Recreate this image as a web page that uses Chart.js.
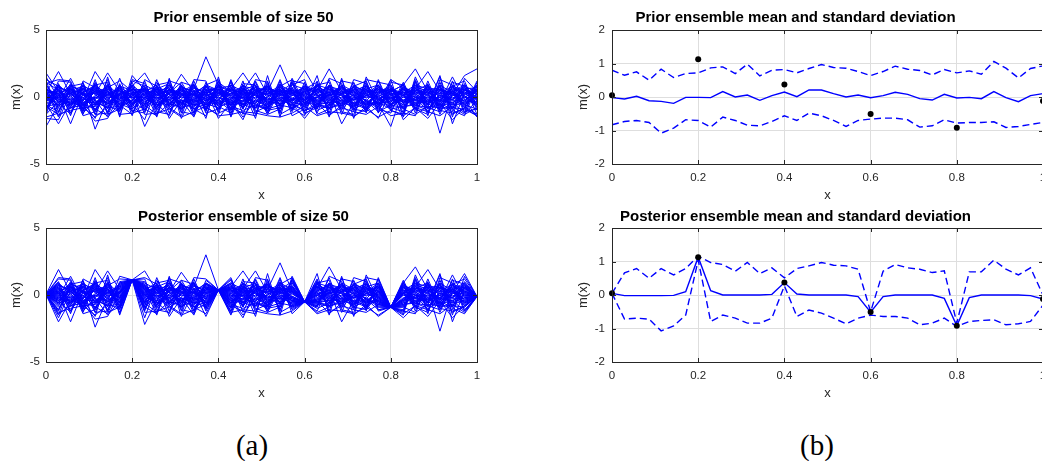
<!DOCTYPE html>
<html>
<head>
<meta charset="utf-8">
<script src="https://cdn.jsdelivr.net/npm/chart.js"></script>
<style>
  html, body { margin: 0; padding: 0; background: #fff; }
  body { position: relative; width: 1042px; height: 461px; overflow: hidden; }
  canvas { position: absolute; }
  .sub { position: absolute; width: 100px; text-align: center; line-height: 29px;
         font-family: "Liberation Serif", "DejaVu Serif", serif; font-size: 29px; color: #000; }
</style>
</head>
<body>
<canvas id="priorEns" width="480" height="205" style="left:10px;top:0px;width:480px;height:205px"></canvas>
<canvas id="postEns" width="480" height="205" style="left:10px;top:200px;width:480px;height:205px"></canvas>
<canvas id="priorStats" width="510" height="205" style="left:548px;top:0px;width:510px;height:205px"></canvas>
<canvas id="postStats" width="510" height="205" style="left:548px;top:200px;width:510px;height:205px"></canvas>
<div class="sub" style="left:202px;top:431px">(a)</div>
<div class="sub" style="left:767px;top:431px">(b)</div>
<script>
// grid nodes (36 points on [0, 1])
const xNodes = [0, 0.029, 0.057, 0.086, 0.114, 0.143, 0.171, 0.2, 0.229, 0.257, 0.286, 0.314,
  0.343, 0.371, 0.4, 0.429, 0.457, 0.486, 0.514, 0.543, 0.571, 0.6, 0.629, 0.657,
  0.686, 0.714, 0.743, 0.771, 0.8, 0.829, 0.857, 0.886, 0.914, 0.943, 0.971, 1];

// observations (black dots) and the grid node each one sits on
const obsX = [0, 0.2, 0.4, 0.6, 0.8, 1];
const obsY = [0.05, 1.13, 0.37, -0.51, -0.92, -0.12];
const obsNodes = [0, 7, 14, 21, 28, 35];

// prior ensemble, 50 members (a) top
const priorMembers = [
  [1.8, 0.4, -0.3, 0.6, -0.2, 0.9,  -0.5, 0.1, 0.7, -0.8, 0.3, 1.1,  -0.4, 0.2, 0.8, -0.6, 0.0, 0.5,  -0.9, 0.4, 1.0, -0.3, 0.6, -0.1,  0.3, -0.7, 0.2, 0.9, -0.5, 0.1,  0.7, -0.2, 0.4, -0.9, 0.5, 0.2],
  [-2.2, -0.6, 0.5, -0.1, 0.8, -0.7,  0.3, -0.9, 0.2, 0.6, -0.4, 0.0,  0.9, -0.3, 0.1, 0.7, -0.8, 0.4,  0.2, -0.5, 0.6, 0.1, -0.9, 0.8,  -0.2, 0.5, -0.6, 0.3, 0.9, -0.4,  -0.1, 0.8, -0.7, 0.2, -0.3, 0.6],
  [0.3, 1.9, 0.2, -0.5, 0.4, 0.1,  0.8, 0.5, -0.6, 0.2, 0.9, -0.3,  0.1, 0.6, -0.5, 0.3, 0.8, -0.7,  0.5, 0.0, -0.4, 0.9, 0.2, -0.6,  0.7, 0.1, -0.8, 0.4, -0.2, 0.6,  0.0, -0.5, 0.9, 0.3, -0.6, 0.1],
  [-0.5, -2.0, -0.4, 0.7, -0.6, 0.3,  -0.2, 0.6, 0.4, -0.9, 0.1, 0.5,  -0.7, 0.4, 0.2, -0.2, 0.5, 0.9,  -0.4, 0.7, 0.3, -0.8, 0.0, 0.4,  0.6, -0.3, 0.8, -0.1, 0.2, -0.9,  0.5, 0.3, -0.4, 0.7, 0.1, -0.5],
  [0.6, 0.2, -2.0, 0.3, 0.9, -0.4,  0.1, -0.3, 0.9, 0.4, -0.7, 0.8,  0.3, -0.8, 0.6, 0.0, -0.3, 0.2,  0.8, -0.6, 0.1, 0.4, 0.7, -0.2,  -0.5, 0.9, 0.3, -0.6, 0.5, 0.2,  -0.8, 0.6, 0.1, -0.2, 0.9, -0.3],
  [-0.9, 0.7, 0.4, -0.2, 1.9, 0.5,  -0.6, 0.2, -0.1, 0.8, 0.3, -0.6,  0.5, 0.1, -0.9, 0.6, 0.2, -0.4,  0.0, 0.8, -0.5, 0.3, -0.1, 0.9,  0.2, -0.6, 0.5, 0.0, -0.8, 0.7,  0.3, -0.9, 0.2, 0.6, -0.4, 0.8],
  [0.1, -0.3, 0.8, 0.5, -2.4, -0.2,  0.7, -0.5, 0.3, -0.1, 0.6, 0.2,  -0.3, 0.8, 0.4, -0.7, 0.9, 0.1,  -0.6, 0.3, 0.7, -0.2, 0.5, 0.0,  0.9, 0.4, -0.3, 0.7, 0.1, -0.6,  0.4, 0.2, -0.6, 0.8, 0.0, -0.7],
  [1.1, 0.5, -0.6, 0.9, 0.2, 1.8,  0.4, 0.0, -0.7, 0.5, -0.2, 0.9,  -0.1, 0.5, 0.7, 0.2, -0.6, 0.3,  0.9, -0.2, 0.4, -0.7, 0.8, 0.3,  -0.1, 0.6, -0.4, 0.2, 0.8, -0.3,  0.6, 0.1, -0.2, 0.4, 0.7, -0.1],
  [-0.3, 0.9, 0.1, -0.8, 0.5, -0.5,  0.2, 0.8, 1.8, 0.3, -0.5, 0.4,  0.7, -0.2, -0.3, 0.9, 0.4, -0.8,  0.3, 0.6, -0.1, 0.5, -0.4, 0.2,  0.8, 0.0, 0.6, -0.5, 0.4, 0.9,  -0.3, 0.7, 0.5, -0.1, 0.2, 0.4],
  [0.4, -0.8, 0.6, 0.2, -0.7, 0.6,  -0.3, 0.4, -2.2, -0.4, 0.8, -0.1,  0.2, 0.9, 0.5, -0.4, 0.1, 0.7,  -0.2, 0.1, 0.9, 0.6, -0.3, 0.5,  0.1, -0.8, 0.4, 0.6, -0.1, 0.3,  0.9, -0.4, 0.0, 0.5, -0.8, 0.3],
  [-0.1, 0.3, -0.9, 0.4, 0.6, -0.3,  0.9, -0.2, 0.5, 0.7, 0.2, 1.7,  0.4, -0.6, 0.3, 0.1, 0.7, -0.2,  0.6, -0.8, 0.2, 0.7, 0.4, -0.5,  0.3, 0.7, -0.1, 0.8, -0.6, 0.5,  0.2, 0.6, -0.8, 0.1, 0.4, -0.2],
  [0.7, -0.4, 0.3, -0.6, 0.1, 0.8,  -0.1, 0.6, 0.2, -0.3, 0.4, 0.1,  0.6, 3.0, 0.9, 0.4, -0.4, 0.6,  0.1, 0.3, -0.7, 0.2, 0.9, 0.6,  -0.4, 0.2, 0.7, -0.3, 0.5, 0.1,  -0.6, 0.3, 0.8, -0.5, 0.6, 0.0],
  [-0.6, 0.1, 0.9, 0.3, -0.4, 0.2,  0.5, -0.7, 0.4, 0.9, -0.6, 0.3,  -0.2, 0.4, 0.1, 0.6, 1.8, 0.4,  0.7, -0.3, 0.5, 0.0, 0.3, 0.8,  0.5, -0.2, 0.1, 0.4, 0.7, -0.5,  0.8, 0.4, -0.3, 0.9, 0.2, 0.5],
  [0.2, 0.6, -0.2, -0.9, 0.7, 0.4,  -0.8, 0.3, 0.6, 0.1, 0.5, -0.5,  0.8, 0.2, -0.6, 0.3, 0.5, 1.8,  0.2, 0.9, 0.4, -0.5, 0.6, 0.1,  0.7, 0.3, -0.6, 0.2, -0.4, 0.8,  0.1, -0.7, 0.6, 0.3, -0.1, 0.9],
  [0.9, -0.2, 0.5, 0.8, -0.3, -0.8,  0.3, 0.7, -0.4, 0.6, 0.0, 0.8,  -0.5, 0.3, 0.7, 0.8, -0.2, 0.5,  0.4, 2.4, 0.3, 0.7, -0.6, 0.2,  -0.3, 0.8, 0.4, 0.0, 0.6, 0.3,  0.5, 0.9, -0.1, 0.7, 0.3, -0.4],
  [-0.4, 0.8, 0.2, -0.3, 0.9, 0.1,  0.6, -0.1, 0.7, -0.6, 0.3, 0.4,  0.9, -0.4, 0.5, -0.1, 0.6, 0.3,  0.8, 0.2, 0.6, 2.0, 0.4, 0.7,  0.2, 0.5, -0.7, 0.6, 0.3, 0.1,  -0.2, 0.5, 0.7, -0.6, 0.8, 0.4],
  [0.5, 0.2, 0.7, -0.4, -0.1, 0.6,  -0.2, 0.9, 0.1, 0.4, 0.7, -0.4,  0.3, 0.8, -0.1, 0.5, 0.3, -0.1,  0.6, 0.4, 0.2, 0.8, 0.5, 2.1,  0.4, 0.1, 0.6, 0.9, -0.3, 0.7,  0.4, -0.1, 0.3, 0.8, 0.5, 0.2],
  [-0.7, -0.5, 0.3, 0.6, 0.2, -0.6,  0.4, 0.2, -0.5, 0.7, -0.3, 0.6,  -0.6, 0.1, 0.4, -0.5, 0.2, 0.8,  -0.3, 0.5, -0.6, 0.3, -0.2, 0.4,  -2.0, -0.4, 0.3, -0.6, 0.1, 0.4,  -0.5, 0.2, 0.6, -0.3, 0.7, -0.6],
  [0.3, 0.4, -0.5, 0.1, 0.3, 0.7,  -0.4, 0.1, 0.8, -0.2, 0.6, 0.3,  0.2, -0.5, 0.8, 0.4, -0.1, 0.7,  0.5, -0.4, 0.3, -0.3, 0.6, 0.1,  0.4, 0.7, 0.2, -0.5, -2.2, 0.6,  0.2, -0.3, 0.5, 0.1, 0.6, -0.2],
  [-0.2, 0.7, 0.4, -0.7, 0.5, 0.3,  0.6, -0.6, 0.2, 0.5, -0.1, 0.7,  0.4, 0.6, -0.2, 0.9, 0.1, -0.5,  0.7, 0.3, 0.5, 0.2, -0.4, 0.6,  0.3, 0.5, 0.8, 0.1, 0.4, 0.9,  2.1, 0.4, -0.2, 0.6, 0.3, 0.8],
  [0.6, -0.1, -0.7, 0.4, 0.8, -0.1,  0.2, 0.5, 0.6, -0.5, 0.9, 0.0,  -0.3, 0.7, 0.3, 0.2, 0.8, 0.6,  -0.5, 0.7, 0.1, 0.6, 0.3, -0.3,  0.7, 0.2, -0.5, 0.3, 0.6, 0.2,  0.6, 1.9, 0.4, -0.2, 0.5, 0.3],
  [-0.8, 0.3, 0.6, 0.2, -0.5, 0.4,  -0.7, 0.3, 0.5, 0.2, -0.4, 0.6,  0.1, -0.3, 0.6, -0.6, 0.4, 0.2,  0.3, -0.6, 0.4, 0.1, 0.7, -0.5,  0.2, -0.6, 0.3, 0.5, -0.4, 0.6,  -0.3, 0.4, -2.7, 0.3, -0.5, 0.2],
  [0.2, -0.7, 0.1, 0.8, 0.4, -0.5,  0.5, -0.4, 0.3, 0.6, 0.2, -0.7,  0.7, 0.3, -0.4, 0.5, -0.5, 0.4,  0.6, 0.2, -0.3, 0.5, 0.1, 0.3,  0.6, 0.3, 0.9, -0.2, 0.5, 0.1,  0.4, -0.6, 1.5, -2.0, 0.3, 0.6],
  [-0.1, 0.5, -0.6, 0.3, -0.2, 0.9,  0.1, 0.7, -0.2, 0.3, 0.5, 0.2,  -0.4, 0.5, 0.6, 0.1, -0.3, 0.5,  0.2, 0.6, -0.2, 0.4, 0.8, 0.2,  -0.3, 0.6, 0.1, 0.7, 0.2, -0.4,  0.5, 0.3, 0.6, 0.2, 1.6, 2.1],
  [0.4, 0.1, 0.3, -0.5, 0.6, 0.2,  -0.5, 0.4, 0.1, -0.7, 0.3, 0.5,  0.2, -0.1, 0.3, 0.6, 0.2, -0.3,  0.4, 0.1, 0.5, -0.5, 0.3, 0.6,  0.1, -0.2, 0.5, 0.3, 0.6, -0.3,  0.3, 0.7, -0.4, 1.5, -0.2, -1.5],
  [1.2, -1.1, 0.9, -1.3, 1.1, -0.9,  1.4, -1.0, -1.2, 1.3, -0.8, -1.4,  1.0, -1.2, -0.9, 1.1, -1.3, 0.8,  -1.1, 1.2, -1.4, -0.9, 1.0, -1.2,  1.3, -0.9, -1.1, 1.2, -1.0, -1.3,  1.1, -1.2, 0.9, -1.3, -0.8, 1.2],
  [-1.3, 1.0, -1.2, 0.9, -1.0, 1.3,  -1.1, 1.2, 0.8, -1.3, 1.2, 0.9,  -1.2, 0.9, 1.3, -1.0, 1.2, -1.3,  1.0, -1.1, 0.9, 1.3, -1.2, 0.8,  -1.0, 1.3, 1.0, -1.2, 1.1, 0.9,  -1.2, 1.0, -1.3, 0.8, 1.2, -1.0],
  [0.8, -1.4, -0.8, 1.1, -1.3, -1.2,  0.9, -0.8, 1.2, -1.1, -1.3, 0.8,  -0.9, -1.4, 1.0, -1.2, 0.9, -1.0,  -1.3, -0.9, 1.1, -1.2, -0.8, 1.3,  -1.1, -1.3, 0.8, -0.9, -1.2, 1.0,  -0.9, -1.3, 1.1, -1.0, -1.4, 0.8],
  [-1.0, 1.2, 1.1, -1.1, 1.3, -1.3,  -0.9, 1.1, -1.0, 0.9, 1.1, -1.2,  1.2, -0.8, -1.3, 1.3, -0.9, 1.1,  -0.8, 1.3, -1.0, 1.1, -1.3, -0.9,  1.2, 1.0, -1.2, 1.3, -0.8, -1.1,  1.3, -0.8, -1.1, 1.2, -1.1, -0.9],
  [-1.5, -1.2, 0.7, -1.4, -1.1, 1.0,  -1.3, -1.2, -0.9, -1.4, 0.7, -1.1,  -1.3, 1.1, -1.2, -0.8, -1.2, -1.4,  1.2, -1.3, -0.8, -1.4, 1.2, -1.3,  -0.8, -1.1, -1.3, -0.7, -1.4, -1.2,  -1.4, 0.9, -1.0, -1.2, -0.9, -1.4],
  [1.3, 0.8, -1.4, 1.2, 0.7, -1.1,  1.0, -1.4, 1.3, 0.8, -1.2, 1.1,  0.8, -1.1, 1.2, -1.4, 1.0, 0.9,  -1.2, 0.8, 1.3, -1.1, 0.9, 1.1,  -1.3, 0.8, 1.2, -1.1, 1.3, 0.7,  -1.0, 1.2, -0.9, 1.1, 0.8, -1.3],
  [-0.7, -1.3, -1.0, -0.8, -1.5, -0.7,  -1.0, 0.9, -1.3, -1.2, -0.9, -1.5,  -1.1, -0.7, -1.4, -1.3, -1.1, -1.2,  -1.4, -1.5, -1.2, -0.7, -1.4, -1.1,  -1.2, -1.4, -0.9, -1.5, -1.0, -1.4,  -0.8, -1.1, -1.4, -0.7, -1.3, -0.8],
  [1.0, 1.3, 1.2, -1.0, 0.9, 1.1,  -1.4, 1.3, 1.0, -0.8, 1.3, -0.9,  1.3, 1.2, -1.1, 1.2, -0.8, 1.3,  1.1, -1.2, 1.2, 1.0, -0.9, 1.4,  1.0, -1.0, 1.3, 1.1, 0.9, -1.2,  1.2, -1.4, 1.3, 0.9, -1.2, 1.1],
  [-0.6, -1.1, 0.6, -0.5, -0.9, -1.4,  0.7, -1.1, -0.6, 1.1, -0.5, -0.8,  -0.5, -0.9, 0.9, -0.7, -1.0, -0.6,  -0.9, 1.0, -0.5, -1.0, -0.7, -0.8,  -0.6, 1.1, -0.8, -0.4, -0.9, -0.7,  -0.6, -1.0, -0.5, -0.9, 1.0, -0.6],
  [0.9, -0.4, -1.3, 0.7, -0.6, 0.8,  -0.9, 0.6, -1.1, 0.4, -0.7, 0.9,  -0.8, 0.4, -1.0, 0.8, -0.6, -0.8,  0.8, -0.7, 1.1, -0.6, 0.9, -0.9,  0.8, -0.5, -0.9, 0.9, -0.7, 1.1,  -0.7, 0.8, -0.6, -1.1, 0.6, 0.7],
  [-1.1, 0.6, -0.8, -0.6, 0.5, -1.2,  0.8, -0.6, 0.7, -1.0, 0.6, -0.6,  0.9, -1.0, 0.6, -0.9, 0.7, -1.1,  -0.7, 0.9, -0.9, 0.8, -0.8, 0.9,  -0.7, 0.8, -1.0, 0.6, -0.6, -0.8,  0.7, -0.6, 0.8, -0.8, -0.9, 0.6],
  [0.5, -1.5, 0.8, 1.0, -1.1, 0.5,  -0.6, -1.3, 0.6, -0.5, -1.4, 0.7,  -1.4, 0.8, -0.7, -1.2, 0.5, -0.6,  -1.0, -0.8, 0.7, -1.3, -0.6, -0.7,  0.9, -0.7, 0.6, -0.8, 0.7, -0.9,  -1.3, -0.7, -0.8, 0.5, -0.6, -0.9],
  [-0.4, 0.9, -0.7, 0.5, -1.3, 0.7,  1.2, 0.4, -0.8, 0.6, 1.0, -1.0,  0.5, -0.6, 1.1, 0.4, -0.9, 1.2,  -0.6, 0.6, -1.1, 0.6, 1.1, -0.4,  0.5, -1.1, 1.1, -0.7, 0.6, -0.5,  0.9, 0.6, -1.1, 0.4, 0.9, -0.8],
  [0.0, -0.6, 1.0, -1.2, -0.2, -1.5,  -0.5, -0.9, 0.0, -0.6, -0.2, 0.2,  -0.9, -0.5, -0.8, -0.3, -1.5, -0.2,  -0.7, -0.2, -0.6, -1.0, -0.5, -0.9,  -0.4, -0.7, -0.3, -1.1, -0.6, 0.0,  -0.5, -0.3, -0.7, -0.4, -1.2, -0.3],
  [-0.3, 0.0, -0.2, -0.3, 1.0, -0.1,  -0.8, -0.2, -0.3, -0.2, -0.9, -0.4,  -0.2, -0.7, 0.0, -0.4, -0.5, 0.0,  -0.1, -0.3, -0.2, -0.1, -0.3, -0.2,  -0.5, -0.1, -0.6, -0.3, 0.0, -0.6,  -0.2, -0.5, 0.0, -0.6, -0.2, -0.4],
  [0.2, -0.2, -0.5, 0.0, -0.9, 0.0,  0.0, -0.5, -0.1, 0.0, -0.2, -0.9,  -0.1, 0.0, -0.6, -0.1, 0.0, -0.8,  -0.5, 0.0, -0.4, -0.6, 0.0, -0.1,  -0.7, 0.0, -0.2, -0.9, 0.0, -0.8,  -0.4, -0.2, -0.6, 0.0, -0.5, 0.0],
  [-1.3, -0.3, -0.4, -0.7, 0.0, -0.5,  -0.3, 0.0, -0.6, -1.3, -0.5, -0.2,  -0.6, -0.4, -0.2, -0.8, -0.3, -0.5,  -0.9, -0.6, -0.8, -0.4, -0.6, -0.4,  -0.3, -0.4, -0.8, -0.2, -0.5, -0.3,  -0.6, -0.8, -0.3, -0.2, -0.7, -1.3],
  [0.1, -0.9, -0.1, -0.4, -0.4, -0.8,  -0.7, -0.3, -0.2, -0.4, -0.6, -0.3,  -0.4, -0.1, -0.5, -0.2, -0.7, -0.3,  -0.3, -0.5, -0.1, -0.2, -1.0, -0.6,  -0.2, -0.9, -0.4, -0.5, -0.3, -0.2,  -0.2, -0.5, -0.9, -0.7, -0.4, -0.1],
  [0.5, 0.3, -1.2, 0.2, 0.3, -0.2,  -1.0, 0.3, 0.4, -0.1, 0.2, -0.7,  0.0, 0.2, -0.3, -1.0, 0.3, 0.1,  -0.2, 0.2, -0.9, -0.2, 0.2, -0.8,  0.3, -0.5, 0.1, -0.2, 0.2, 0.4,  -0.9, 0.1, -0.2, 0.4, 0.0, 0.4],
  [-0.5, 0.1, 0.0, -0.9, -0.5, 0.4,  0.1, -1.1, 0.0, 0.2, 0.4, 0.3,  -1.1, 0.1, -0.7, 0.3, -0.1, -0.9,  0.1, -0.9, 0.3, -0.7, 0.1, 0.0,  -0.8, 0.2, -1.1, 0.1, -1.0, 0.2,  0.0, -1.1, 0.3, -0.8, 0.1, -0.7],
  [-0.2, -0.4, 0.4, 0.3, -0.3, -0.4,  0.3, -0.4, -0.9, 0.1, 0.5, -0.5,  0.4, -0.9, 0.3, -0.3, 0.4, 0.2,  -0.8, 0.4, -0.3, 0.4, -0.5, -0.4,  0.0, 0.4, -0.3, -0.7, 0.3, -0.4,  0.1, -0.4, 0.1, 0.3, -0.3, 0.5],
  [-0.8, 0.0, 0.6, -0.2, 0.0, 0.0,  -0.1, 0.0, 0.0, -0.7, 0.0, -0.4,  -0.9, -0.2, 0.0, -0.6, 0.0, -0.4,  0.0, 0.5, -0.2, -0.4, 0.0, -0.6,  -0.6, -0.2, 0.0, -0.1, -0.8, 0.0,  -0.4, 0.0, -0.3, -0.4, 0.0, -0.5],
  [0.3, -0.6, -0.3, -0.8, -0.7, 0.2,  -0.2, 0.8, -0.5, 0.0, -0.8, 0.1,  0.2, -0.6, -0.4, 0.0, -0.8, 0.3,  -0.4, -0.1, -0.7, 0.0, -0.5, 0.2,  -0.9, 0.0, -0.5, -0.4, -0.1, -0.7,  0.0, -0.8, -0.5, 0.2, -0.6, 0.1],
  [-1.6, -1.7, 0.3, -0.6, -1.8, -1.6,  0.2, -0.5, -1.7, 0.8, -1.6, -0.2,  -1.5, 0.6, -1.6, -0.4, -1.7, 0.4,  -1.3, 0.5, -0.5, -1.6, -0.4, -1.4,  -0.6, -1.5, -0.7, -1.6, 0.5, -1.7,  -0.8, -1.6, -0.4, -1.7, -0.8, -1.4],
  [1.5, -0.1, 1.4, -0.4, -1.6, 1.5,  -1.5, 1.6, 0.5, -1.5, 1.4, -1.6,  0.3, -1.6, 1.5, -1.5, 0.6, -1.6,  1.6, -1.5, 1.4, -0.5, 1.6, -1.5,  1.4, -1.6, 1.5, -0.4, 1.3, -1.5,  1.5, -0.6, 1.6, -1.5, 1.4, 0.4]
];

// posterior ensemble: same members, pinned to the observation at the observed nodes
const posteriorMembers = priorMembers.map(m => m.map((v, k) => {
  const j = obsNodes.indexOf(k);
  return j < 0 ? v : obsY[j];
}));

// prior mean and mean +/- std (b) top
const priorMeanY = [-0.02, -0.06, 0.02, -0.11, -0.13, -0.19, -0.01, -0.01, -0.02, 0.16, 0.0, 0.06,
  -0.1, 0.04, 0.15, 0.01, 0.21, 0.21, 0.1, 0.0, 0.06, -0.02, 0.04, 0.14,
  0.08, -0.05, -0.09, 0.08, -0.03, -0.01, -0.05, 0.16, -0.02, -0.14, 0.04, 0.1];
const priorUpperY = [0.8, 0.65, 0.75, 0.5, 0.83, 0.58, 0.7, 0.72, 0.87, 0.9, 0.7, 0.98,
  0.63, 0.8, 0.82, 0.72, 0.85, 0.97, 0.88, 0.86, 0.76, 0.64, 0.76, 0.92,
  0.83, 0.79, 0.66, 0.82, 0.72, 0.78, 0.68, 1.06, 0.86, 0.57, 0.85, 0.93];
const priorLowerY = [-0.83, -0.73, -0.7, -0.76, -1.08, -0.93, -0.68, -0.7, -0.9, -0.6, -0.7, -0.84,
  -0.86, -0.73, -0.56, -0.7, -0.48, -0.56, -0.7, -0.88, -0.7, -0.66, -0.63, -0.63,
  -0.68, -0.9, -0.86, -0.68, -0.78, -0.76, -0.76, -0.74, -0.91, -0.88, -0.82, -0.76];

// posterior mean and mean +/- std (b) bottom
const postMeanY = [0.05, -0.02, -0.02, -0.02, -0.02, -0.01, 0.1, 1.13, 0.13, 0.0, 0.0, 0.0,
  0.0, 0.02, 0.37, 0.03, 0.0, 0.0, 0.0, 0.0, -0.05, -0.51, -0.05, 0.0,
  0.0, 0.0, 0.0, -0.1, -0.92, -0.08, 0.0, 0.0, 0.0, 0.0, -0.02, -0.12];
const postUpperY = [0.05, 0.66, 0.79, 0.5, 0.79, 0.6, 0.79, 1.16, 0.97, 0.91, 0.71, 0.97,
  0.64, 0.81, 0.51, 0.79, 0.87, 0.97, 0.89, 0.87, 0.77, -0.5, 0.71, 0.91,
  0.81, 0.77, 0.67, 0.72, -0.84, 0.69, 0.69, 1.04, 0.77, 0.6, 0.81, 0.0];
const postLowerY = [0.05, -0.72, -0.69, -0.72, -1.07, -0.92, -0.6, 1.04, -0.79, -0.6, -0.69, -0.84,
  -0.84, -0.69, 0.27, -0.64, -0.45, -0.54, -0.69, -0.86, -0.69, -0.6, -0.64, -0.64,
  -0.69, -0.89, -0.84, -0.69, -0.94, -0.79, -0.76, -0.74, -0.89, -0.86, -0.79, -0.3];

const FONT = '"Liberation Sans", Arial, sans-serif';
const INK = '#262626';
const GRID = '#dedede';
const BLUE = '#0000ff';

// box round the plot area with inward tick marks (matlab style)
const axesBox = {
  id: 'axesBox',
  afterDraw(chart) {
    const { ctx, chartArea: a, scales: { x, y } } = chart;
    ctx.save();
    ctx.strokeStyle = INK;
    ctx.lineWidth = 1;
    ctx.beginPath();
    x.ticks.forEach(t => {
      const px = Math.round(x.getPixelForValue(t.value)) + 0.5;
      ctx.moveTo(px, a.bottom); ctx.lineTo(px, a.bottom - 4);
      ctx.moveTo(px, a.top); ctx.lineTo(px, a.top + 4);
    });
    y.ticks.forEach(t => {
      const py = Math.round(y.getPixelForValue(t.value)) + 0.5;
      ctx.moveTo(a.left, py); ctx.lineTo(a.left + 4, py);
      ctx.moveTo(a.right, py); ctx.lineTo(a.right - 4, py);
    });
    ctx.stroke();
    ctx.strokeRect(Math.round(a.left) + 0.5, Math.round(a.top) + 0.5,
      Math.round(a.right - a.left), Math.round(a.bottom - a.top));
    ctx.restore();
  }
};

function points(ys) {
  return ys.map((v, i) => ({ x: xNodes[i], y: v }));
}

function ensembleSets(members) {
  return members.map(m => ({ data: points(m), borderColor: BLUE, borderWidth: 1 }));
}

function statSets(meanY, upperY, lowerY) {
  return [
    { data: obsX.map((x, i) => ({ x: x, y: obsY[i] })), showLine: false, pointRadius: 3,
      pointBackgroundColor: '#000', pointBorderWidth: 0, clip: false },
    { data: points(meanY), borderColor: BLUE, borderWidth: 1.4 },
    { data: points(upperY), borderColor: BLUE, borderWidth: 1.4, borderDash: [7, 4] },
    { data: points(lowerY), borderColor: BLUE, borderWidth: 1.4, borderDash: [7, 4] }
  ];
}

function makePanel(id, row, col, title, yMax, datasets) {
  const top = row === 0;
  const left = col === 0;
  new Chart(document.getElementById(id), {
    type: 'line',
    data: { datasets: datasets },
    options: {
      responsive: false,
      animation: false,
      events: [],
      elements: { point: { radius: 0 }, line: { tension: 0 } },
      layout: { padding: { left: 0, right: left ? 13 : 15, top: 0, bottom: 0 } },
      plugins: {
        legend: { display: false },
        tooltip: { enabled: false },
        title: {
          display: true, text: title, color: '#000',
          font: { family: FONT, size: 15, weight: 'bold', lineHeight: 1.2 },
          padding: top ? { top: 9.3, bottom: 2.7 } : { top: 7.7, bottom: 2.3 }
        }
      },
      scales: {
        x: {
          type: 'linear', min: 0, max: 1,
          border: { display: false },
          grid: { color: GRID, drawTicks: false },
          ticks: { stepSize: 0.2, color: INK, padding: 7, maxRotation: 0, autoSkip: false,
                   font: { family: FONT, size: 11.5 },
                   callback: v => String(Math.round(v * 10) / 10) },
          title: { display: true, text: 'x', color: INK,
                   font: { family: FONT, size: 13, lineHeight: 1 },
                   padding: { top: 0, bottom: top ? 3 : 5 } },
          afterFit: s => { s.height = top ? 41 : 43; }
        },
        y: {
          min: -yMax, max: yMax,
          border: { display: false },
          grid: { color: GRID, drawTicks: false },
          ticks: { stepSize: yMax === 5 ? 5 : 1, color: INK, padding: left ? 6 : 7,
                   font: { family: FONT, size: 11.5 } },
          title: { display: true, text: 'm(x)', color: INK,
                   font: { family: FONT, size: 13, lineHeight: 1 },
                   padding: { top: left ? 0 : 29, bottom: 0 } },
          afterFit: s => { s.width = left ? 36 : 64; }
        }
      }
    },
    plugins: [axesBox]
  });
}

makePanel('priorEns', 0, 0, 'Prior ensemble of size 50', 5, ensembleSets(priorMembers));
makePanel('postEns', 1, 0, 'Posterior ensemble of size 50', 5, ensembleSets(posteriorMembers));
makePanel('priorStats', 0, 1, 'Prior ensemble mean and standard deviation', 2,
  statSets(priorMeanY, priorUpperY, priorLowerY));
makePanel('postStats', 1, 1, 'Posterior ensemble mean and standard deviation', 2,
  statSets(postMeanY, postUpperY, postLowerY));
</script>
</body>
</html>
